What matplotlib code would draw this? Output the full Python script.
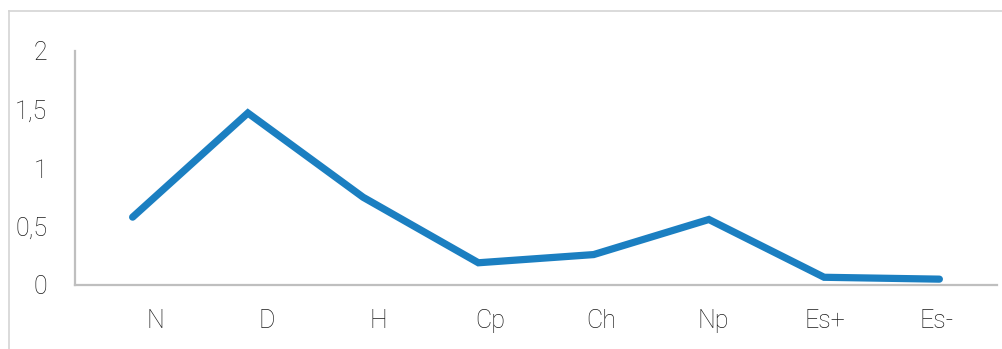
import numpy as np
import matplotlib
matplotlib.use("Agg")
import matplotlib.pyplot as plt
from matplotlib.lines import Line2D
from matplotlib.ticker import FuncFormatter

# Valeurs de la série et libellés des catégories
categories = ["N", "D", "H", "Cp", "Ch", "Np", "Es+", "Es-"]
valeurs = [0.58, 1.47, 0.75, 0.19, 0.26, 0.56, 0.066, 0.05]
graduations_y = [0, 0.5, 1, 1.5, 2]

plt.rcParams["font.family"] = ["Roboto", "DejaVu Sans"]

W, H = 1002, 349
fig = plt.figure(figsize=(W / 100, H / 100), dpi=100)
ax = fig.add_axes([75 / W, (H - 285) / H, (997 - 75) / W, (285 - 51) / H])

x = np.arange(len(categories))
ax.plot(x, valeurs, color="#1b7fc1", lw=5.2, solid_capstyle="round",
        solid_joinstyle="miter")

ax.set_xlim(-0.5, len(categories) - 0.5)
ax.set_ylim(0, 2)
ax.set_yticks(graduations_y)
ax.yaxis.set_major_formatter(FuncFormatter(lambda v, p: f"{v:g}".replace(".", ",")))

# les libellés sont un peu décalés par rapport aux points
pos_libelles = np.arange(len(categories)) * 0.969 + 0.194
ax.set_xticks(pos_libelles)
ax.set_xticklabels(categories)

ax.tick_params(length=0, labelsize=18, labelcolor="#1a1a1a")
ax.tick_params(axis="y", pad=20)
ax.tick_params(axis="x", pad=17)
for lab in ax.get_xticklabels() + ax.get_yticklabels():
    lab.set_fontweight("light")

for s in ["top", "right"]:
    ax.spines[s].set_visible(False)
for s in ["left", "bottom"]:
    ax.spines[s].set_color("#bfbfbf")
    ax.spines[s].set_linewidth(1.6)

# cadre gris autour du graphique
fig.add_artist(Line2D([9 / W, 9 / W], [0, (H - 11) / H], color="#d4d4d4", lw=1.2))
fig.add_artist(Line2D([9 / W, 1], [(H - 11) / H, (H - 11) / H], color="#d4d4d4", lw=1.2))

fig.savefig("out.png", dpi=100)
